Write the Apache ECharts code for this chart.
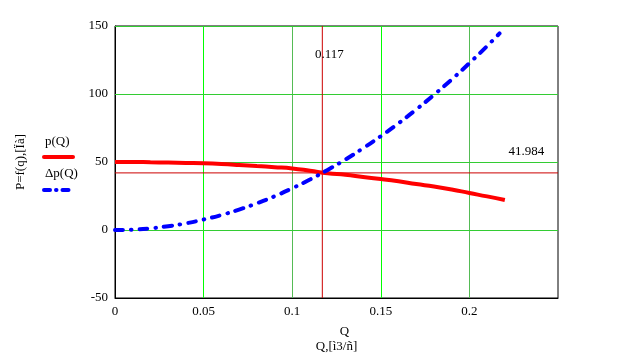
<!DOCTYPE html>
<html><head><meta charset="utf-8">
<script src="https://cdn.jsdelivr.net/npm/echarts@6/dist/echarts.min.js"></script>
<style>html,body{margin:0;padding:0;background:#fff}#c{width:636px;height:362px}</style>
</head><body><div id="c"></div>
<script>
var qValues = [0,0.01,0.02,0.03,0.04,0.05,0.06,0.07,0.08,0.09,0.10,0.11,0.12,0.13,0.14,0.15,0.16,0.17,0.18,0.19,0.20,0.21,0.22];
var pValues = [50,50,49.8,49.6,49.3,49,48.5,47.8,47,46.2,45.3,43.6,41.7,40.6,39,37.5,35.8,33.8,32,29.8,27.2,24.7,22];
var dqValues = [0,0.01,0.02,0.03,0.04,0.05,0.06,0.07,0.08,0.09,0.10,0.11,0.12,0.13,0.14,0.15,0.16,0.17,0.18,0.19,0.20,0.21,0.217];
var dpValues = [0,0.3,1.2,2.8,4.9,7.7,11,15,19.6,24.8,30.7,37.1,44.2,51.8,60.1,69,78.5,88.6,99.4,110.7,122.7,135.3,144.5];
var crossQ = 0.117, crossP = 41.984;
var gridQ = [0.05,0.10,0.15,0.20];
var gridP = [0,50,100,150];
var xMin = 0, xMax = 0.25, yMin = -50, yMax = 150;
var seriesNames = ['p(Q)', '\u0394p(Q)'];
var xNameTop = 'Q', xNameBottom = 'Q,[\u00ec3/\u00f1]';
var yName = 'P=f(q),[\u00cf\u00e0]';

var FONT = 'Liberation Serif';
function zip(a,b){return a.map(function(v,i){return [v,b[i]];});}
var gridLines = gridQ.map(function(q,i){
  return {xAxis:q,lineStyle:{color:(i%2===0)?'#00ff00':'#55bb55',width:1,type:'solid'}};
}).concat(gridP.map(function(p){
  return {yAxis:p,lineStyle:{color:'#33cc33',width:1,type:'solid'}};
}));
var chart = echarts.init(document.getElementById('c'));
chart.setOption({
  animation:false,
  backgroundColor:'#fff',
  textStyle:{fontFamily:FONT},
  grid:{left:115,top:26,width:443,height:272,show:true,borderColor:'#000',borderWidth:1,backgroundColor:'transparent'},
  xAxis:{type:'value',min:xMin,max:xMax,interval:0.05,
    name:'{a|'+xNameTop+'}\n{b|'+xNameBottom+'}',nameLocation:'middle',nameGap:26,
    nameTextStyle:{fontFamily:FONT,fontSize:13,color:'#000',lineHeight:15,
      rich:{a:{fontFamily:FONT,fontSize:13,color:'#000',lineHeight:15,padding:[0,0,0,16]},
            b:{fontFamily:FONT,fontSize:13,color:'#000',lineHeight:15}}},
    axisLine:{show:true,onZero:false,lineStyle:{color:'#000',width:1}},
    axisTick:{show:false},
    axisLabel:{fontFamily:FONT,fontSize:13,color:'#000',margin:7,
      formatter:function(v){return Math.abs(v-0.25)<1e-9?'':String(+v.toFixed(2));}},
    splitLine:{show:false}},
  yAxis:{type:'value',min:yMin,max:yMax,interval:50,
    name:yName,nameLocation:'middle',nameGap:88,nameRotate:90,
    nameTextStyle:{fontFamily:FONT,fontSize:13,color:'#000'},
    axisLine:{show:true,onZero:false,lineStyle:{color:'#000',width:1}},
    axisTick:{show:false},
    axisLabel:{fontFamily:FONT,fontSize:13,color:'#000',margin:7},
    splitLine:{show:false}},
  series:[
    {name:'grid',type:'line',data:[[0,0]],showSymbol:false,lineStyle:{opacity:0},z:1,silent:true,
     markLine:{silent:true,z:1,symbol:'none',label:{show:false},data:gridLines}},
    {name:'crossV',type:'line',data:[[crossQ,yMin],[crossQ,yMax]],showSymbol:false,silent:true,z:3,
     lineStyle:{color:'#cc0000',width:1}},
    {name:'crossH',type:'line',data:[[xMin,crossP],[xMax,crossP]],showSymbol:false,silent:true,z:3,
     lineStyle:{color:'#cc0000',width:1},
     markPoint:{silent:true,z:8,symbol:'circle',symbolSize:0,
       label:{show:true,fontFamily:FONT,fontSize:13,color:'#000',position:'inside'},
       data:[{coord:[crossQ,129],value:crossQ,label:{formatter:String(crossQ),offset:[7,0]}},
             {coord:[0.2322,57.3],value:crossP,label:{formatter:String(crossP)}}]}},
    {name:seriesNames[0],type:'line',data:zip(qValues,pValues),smooth:true,showSymbol:false,
     lineStyle:{color:'#ff0000',width:4},z:6},
    {name:seriesNames[1],type:'line',data:zip(dqValues,dpValues),smooth:true,showSymbol:false,
     lineStyle:{color:'#0000ff',width:4,type:[8,8,0.5,8],cap:'round'},z:7}
  ],
  graphic:[
    {type:'text',left:45,top:135,style:{text:seriesNames[0],font:'13px "Liberation Serif"',fill:'#000'}},
    {type:'line',shape:{x1:44,y1:157,x2:73,y2:157},style:{stroke:'#ff0000',lineWidth:4,lineCap:'round'}},
    {type:'text',left:45,top:167,style:{text:seriesNames[1],font:'13px "Liberation Serif"',fill:'#000'}},
    {type:'line',shape:{x1:44,y1:190,x2:73,y2:190},style:{stroke:'#0000ff',lineWidth:4,lineCap:'round',lineDash:[6,6,0.5,6]}}
  ]
});
</script></body></html>
